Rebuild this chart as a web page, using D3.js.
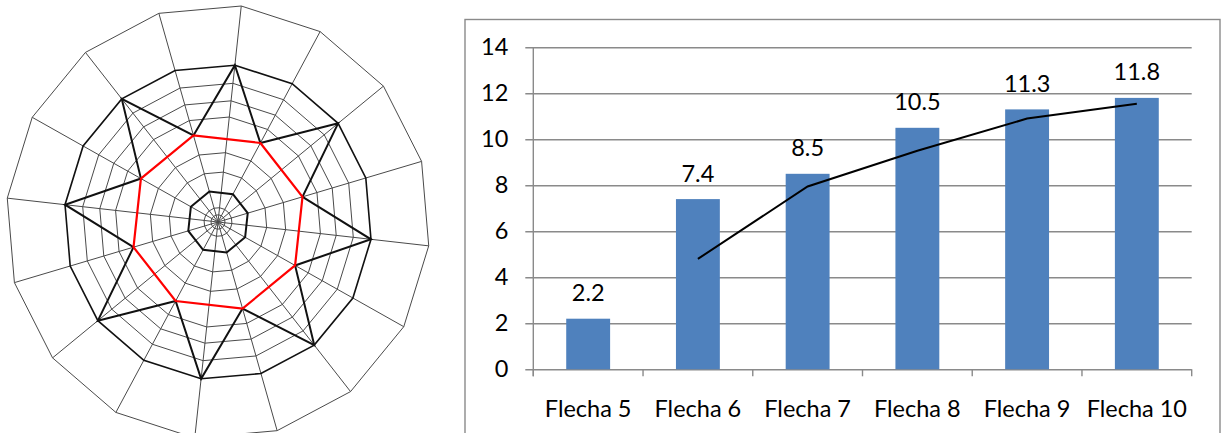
<!DOCTYPE html>
<html>
<head>
<meta charset="utf-8">
<script src="https://cdn.jsdelivr.net/npm/d3@7"></script>
<style>
  html, body { margin: 0; padding: 0; background: #fff; }
  svg { display: block; }
  text { font-family: Lato, "Open Sans", sans-serif; fill: #000; }
</style>
</head>
<body>
<svg id="chart" width="1223" height="433"></svg>
<script>
// ---- spider web (left) ----
const spokeCount = 16;                 // radial threads
const spokeOffsetDeg = 6.3;            // rotation of the first thread
const thinRings = [3.3, 6.6, 23.1, 32.1, 48.6, 56.1, 64.2];  // thin rings, % of outer radius
const outerRing = 100;
const starRing = 72.6;                 // dark ring through the star tips
const starTip = 72.6;                  // star outer points (even threads)
const starValley = 41.5;               // star inner points (odd threads)
const redOctagon = 41.5;               // red octagon (odd threads)
const innerOctagon = 14.6;             // small dark octagon (odd threads)

// ---- bar chart (right) ----
const categories = ["Flecha 5", "Flecha 6", "Flecha 7", "Flecha 8", "Flecha 9", "Flecha 10"];
const barValues = [2.2, 7.4, 8.5, 10.5, 11.3, 11.8];
const trendCategories = ["Flecha 6", "Flecha 7", "Flecha 8", "Flecha 9", "Flecha 10"];
const trendValues = [4.8, 7.95, 9.5, 10.9, 11.55];
const yTicks = [0, 2, 4, 6, 8, 10, 12, 14];

const svg = d3.select("#chart");

// ===== Web =====
const web = svg.append("g")
  .attr("transform", "translate(218,222) scale(1,1.025)");
const r = d3.scaleLinear().domain([0, 100]).range([0, 212]);
const angle = i => (spokeOffsetDeg + i * 360 / spokeCount) * Math.PI / 180;
const idx = d3.range(spokeCount);
const oddIdx = idx.filter(i => i % 2 === 1);

const ringPath = d3.lineRadial()
  .angle(d => angle(d.i))
  .radius(d => r(d.v))
  .curve(d3.curveLinearClosed);

// threads
web.selectAll("line.spoke")
  .data(idx)
  .join("line")
  .attr("class", "spoke")
  .attr("x1", 0).attr("y1", 0)
  .attr("x2", i => r(outerRing) * Math.sin(angle(i)))
  .attr("y2", i => -r(outerRing) * Math.cos(angle(i)))
  .attr("stroke", "#4a4a4a").attr("stroke-width", 1)
  .attr("vector-effect", "non-scaling-stroke");

// thin rings + outer ring
web.selectAll("path.ring")
  .data(thinRings.concat([outerRing]))
  .join("path")
  .attr("class", "ring")
  .attr("d", v => ringPath(idx.map(i => ({ i, v }))))
  .attr("fill", "none").attr("stroke", "#4a4a4a").attr("stroke-width", 1)
  .attr("vector-effect", "non-scaling-stroke");

// dark ring through the star tips
web.append("path")
  .attr("d", ringPath(idx.map(i => ({ i, v: starRing }))))
  .attr("fill", "none").attr("stroke", "#111").attr("stroke-width", 1.6)
  .attr("vector-effect", "non-scaling-stroke");

// small inner octagon
web.append("path")
  .attr("d", ringPath(oddIdx.map(i => ({ i, v: innerOctagon }))))
  .attr("fill", "none").attr("stroke", "#111").attr("stroke-width", 2)
  .attr("vector-effect", "non-scaling-stroke");

// eight-pointed star
web.append("path")
  .attr("d", ringPath(idx.map(i => ({ i, v: i % 2 === 0 ? starTip : starValley }))))
  .attr("fill", "none").attr("stroke", "#111").attr("stroke-width", 2)
  .attr("stroke-linejoin", "miter")
  .attr("vector-effect", "non-scaling-stroke");

// red octagon
web.append("path")
  .attr("d", ringPath(oddIdx.map(i => ({ i, v: redOctagon }))))
  .attr("fill", "none").attr("stroke", "#ff0000").attr("stroke-width", 2.2)
  .attr("vector-effect", "non-scaling-stroke");

// ===== Bar chart =====
const frame = { x: 465, y: 19.5, w: 755, h: 420 };
svg.append("rect")
  .attr("x", frame.x).attr("y", frame.y)
  .attr("width", frame.w).attr("height", frame.h)
  .attr("fill", "#fff").attr("stroke", "#8a8a8a").attr("stroke-width", 1.4);

const plot = { left: 533.3, right: 1191.7, top: 47.3, bottom: 369.3 };
const x = d3.scaleBand().domain(categories)
  .range([plot.left, plot.right])
  .paddingInner(0.6).paddingOuter(0.3);
const y = d3.scaleLinear().domain([0, 14]).range([plot.bottom, plot.top]);
const grey = "#8a8a8a";

// gridlines + y labels
const yAxis = svg.append("g")
  .attr("transform", `translate(${plot.left},0)`)
  .call(d3.axisLeft(y).tickValues(yTicks)
    .tickSizeInner(-(plot.right - plot.left)).tickSizeOuter(0).tickPadding(25));
yAxis.select(".domain").remove();
yAxis.selectAll(".tick line")
  .attr("x1", -8).attr("stroke", grey).attr("stroke-width", 1.4);
yAxis.selectAll(".tick text")
  .style("font-family", "Lato, 'Open Sans', sans-serif")
  .style("font-size", "23.5px").attr("fill", "#000");

// y axis line
svg.append("line")
  .attr("x1", plot.left).attr("x2", plot.left)
  .attr("y1", plot.top).attr("y2", plot.bottom + 7)
  .attr("stroke", grey).attr("stroke-width", 1.4);

// category boundary ticks
const step = x.step();
svg.selectAll("line.xtick")
  .data(d3.range(categories.length + 1))
  .join("line")
  .attr("class", "xtick")
  .attr("x1", i => plot.left + i * step).attr("x2", i => plot.left + i * step)
  .attr("y1", plot.bottom).attr("y2", plot.bottom + 7)
  .attr("stroke", grey).attr("stroke-width", 1.4);

// bars
svg.selectAll("rect.bar")
  .data(categories.map((c, i) => ({ c, v: barValues[i] })))
  .join("rect")
  .attr("class", "bar")
  .attr("x", d => x(d.c)).attr("width", x.bandwidth())
  .attr("y", d => y(d.v)).attr("height", d => y(0) - y(d.v))
  .attr("fill", "#4f81bd");

// value labels
svg.selectAll("text.val")
  .data(categories.map((c, i) => ({ c, v: barValues[i] })))
  .join("text")
  .attr("class", "val")
  .attr("x", d => x(d.c) + x.bandwidth() / 2)
  .attr("y", d => y(d.v) - 17.5)
  .attr("text-anchor", "middle")
  .style("font-size", "23.5px")
  .text(d => d.v.toFixed(1));

// category labels
svg.selectAll("text.cat")
  .data(categories)
  .join("text")
  .attr("class", "cat")
  .attr("x", c => x(c) + x.bandwidth() / 2)
  .attr("y", 417)
  .attr("text-anchor", "middle")
  .style("font-size", "23.5px")
  .text(c => c);

// trend line
const line = d3.line()
  .x((d, i) => x(trendCategories[i]) + x.bandwidth() / 2)
  .y(d => y(d));
svg.append("path")
  .attr("d", line(trendValues))
  .attr("fill", "none").attr("stroke", "#000").attr("stroke-width", 2);
</script>
</body>
</html>
